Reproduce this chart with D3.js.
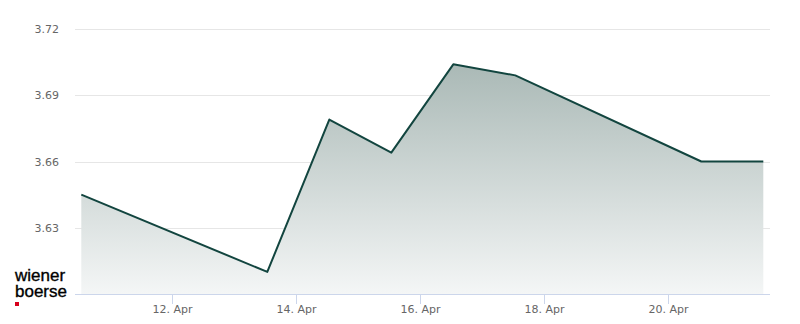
<!DOCTYPE html>
<html lang="de">
<head>
  <meta charset="utf-8">
  <title>Kursverlauf</title>
  <script src="https://d3js.org/d3.v7.min.js"></script>
  <style>
    body { margin: 0; background: #fff; }
    .tick-label { font: 11px "DejaVu Sans", sans-serif; fill: #666; }
    .logo { font: 17px "Liberation Sans", Arial, sans-serif; fill: #000; stroke: #000; stroke-width: 0.35px; }
  </style>
</head>
<body>
  <div id="chart"></div>
  <script>
    "use strict"
    // daten (Schlusskurse)
    var tage = ["2026-04-10 13:00", "2026-04-13 13:00", "2026-04-14 13:00", "2026-04-15 13:00",
                "2026-04-16 13:00", "2026-04-17 13:00", "2026-04-20 13:00", "2026-04-21 13:00"];
    var kurse = [3.645, 3.61, 3.679, 3.664, 3.704, 3.699, 3.66, 3.66];
    var yTicks = [3.63, 3.66, 3.69, 3.72];
    var xTicks = ["2026-04-12", "2026-04-14", "2026-04-16", "2026-04-18", "2026-04-20"];

    var breite = 800, hoehe = 324;
    var links = 75, rechts = 770, oben = 29, unten = 294;

    var parse = d3.timeParse("%Y-%m-%d %H:%M");
    var parseTag = d3.timeParse("%Y-%m-%d");
    var dados = tage.map((t, i) => ({ datum: parse(t), kurs: kurse[i] }));

    var svg = d3.select("#chart").append("svg")
      .attr("width", breite)
      .attr("height", hoehe);

    var x = d3.scaleTime()
      .domain(d3.extent(dados, d => d.datum))
      .range([81.3, 763.3]);
    var y = d3.scaleLinear()
      .domain([3.60, 3.72])
      .range([unten, oben]);

    // gradient fuer die flaeche
    var grad = svg.append("defs").append("linearGradient")
      .attr("id", "flaeche")
      .attr("x1", 0).attr("y1", 0).attr("x2", 0).attr("y2", 1);
    grad.append("stop").attr("offset", "0%").attr("stop-color", "#aab9b6");
    grad.append("stop").attr("offset", "100%").attr("stop-color", "#f4f6f6");

    // gitterlinien
    svg.append("g").selectAll("line")
      .data(yTicks)
      .join("line")
        .attr("x1", links).attr("x2", rechts)
        .attr("y1", d => Math.round(y(d)) + 0.5)
        .attr("y2", d => Math.round(y(d)) + 0.5)
        .attr("stroke", "#e6e6e6");

    svg.append("g").selectAll("text")
      .data(yTicks)
      .join("text")
        .attr("class", "tick-label")
        .attr("x", 59)
        .attr("y", d => y(d) + 4)
        .attr("text-anchor", "end")
        .text(d => d.toFixed(2));

    // flaeche und linie
    svg.append("path")
      .datum(dados)
      .attr("fill", "url(#flaeche)")
      .attr("d", d3.area().x(d => x(d.datum)).y0(unten).y1(d => y(d.kurs)));

    svg.append("path")
      .datum(dados)
      .attr("fill", "none")
      .attr("stroke", "#12453f")
      .attr("stroke-width", 2)
      .attr("stroke-linejoin", "round")
      .attr("d", d3.line().x(d => x(d.datum)).y(d => y(d.kurs)));

    // x-achse
    svg.append("line")
      .attr("x1", links).attr("x2", rechts)
      .attr("y1", unten + 0.5).attr("y2", unten + 0.5)
      .attr("stroke", "#ccd6eb");

    var fmt = d3.timeFormat("%-d. %b");
    var xt = svg.append("g").selectAll("g")
      .data(xTicks.map(parseTag))
      .join("g")
        .attr("transform", d => "translate(" + (Math.round(x(d)) + 0.5) + ",0)");
    xt.append("line")
      .attr("y1", unten).attr("y2", unten + 10)
      .attr("stroke", "#ccd6eb");
    xt.append("text")
      .attr("class", "tick-label")
      .attr("y", 313)
      .attr("text-anchor", "middle")
      .text(d => fmt(d));

    // logo
    var logo = svg.append("g");
    logo.append("text").attr("class", "logo").attr("x", 15).attr("y", 281).text("wiener");
    logo.append("text").attr("class", "logo").attr("x", 15).attr("y", 297).text("boerse");
    logo.append("rect").attr("x", 15).attr("y", 302).attr("width", 4).attr("height", 4).attr("fill", "#d7001c");
  </script>
</body>
</html>
